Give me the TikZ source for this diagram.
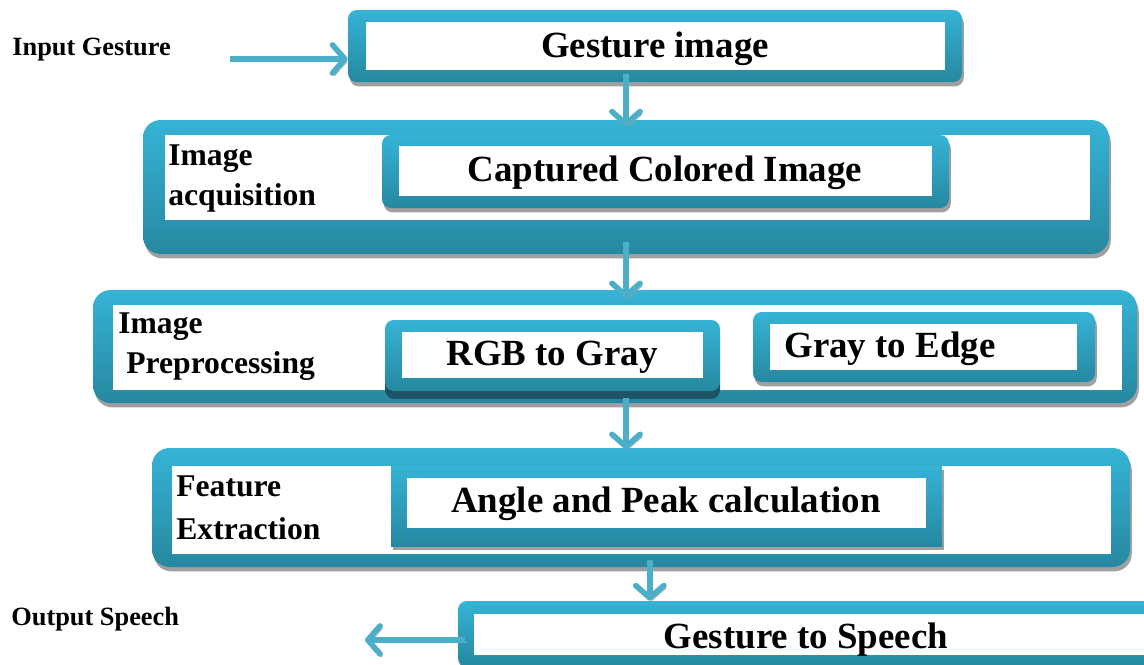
\documentclass[tikz,border=0pt]{standalone}
\usepackage{fontspec}
\setmainfont{Liberation Serif}
\usetikzlibrary{arrows.meta,fit,shadows}

\definecolor{frameTop}{RGB}{54,179,214}
\definecolor{frameBot}{RGB}{38,136,160}
\definecolor{arrowC}{RGB}{75,175,200}
\definecolor{shadowC}{RGB}{160,160,160}
\definecolor{deepC}{RGB}{30,85,102}

\tikzset{
  skin/.style={inner sep=0pt, rounded corners=5pt, top color=frameTop, bottom color=frameBot},
  frame/.style={skin, drop shadow={shadow xshift=1pt, shadow yshift=-2.5pt, opacity=1, fill=shadowC}},
  bigframe/.style={frame, rounded corners=10pt},
  darkframe/.style={skin, drop shadow={shadow xshift=0pt, shadow yshift=-4.5pt, opacity=1, fill=deepC}},
  hole/.style={inner sep=0pt, fill=white},
  title/.style={font=\fontsize{21}{25}\selectfont\bfseries, anchor=base, inner sep=0pt},
  side/.style={font=\fontsize{18}{22}\selectfont\bfseries, anchor=base west, inner sep=0pt},
  io/.style={font=\fontsize{15}{18}\selectfont\bfseries, anchor=base west, inner sep=0pt},
  flow/.style={draw=arrowC, line width=3.2pt, -{Straight Barb[round, length=7pt, width=16pt]},
    drop shadow={shadow xshift=1.2pt, shadow yshift=-1.5pt, opacity=1, fill=none, draw=shadowC}}
}

\begin{document}
\begin{tikzpicture}[x=0.02cm, y=-0.02cm]
  \useasboundingbox (0,0) rectangle (1144,664);
  \clip (0,0) rectangle (1144,664);

  % input
  \node[io] (inTxt) at (12,55) {Input Gesture};
  \coordinate (inA) at (230,59);
  \node[frame, fit={(348,10) (962,82)}] (gi) {};
  \node[hole, fit={(366,22) (945,70)}] (giIn) {};
  \node[title] (giTxt) at (655,57) {Gesture image};

  % image acquisition
  \node[bigframe, fit={(143,120) (1109,254)}] (acq) {};
  \node[hole, fit={(165,135) (1090,220)}] (acqIn) {};
  \node[side] (acqA) at (168,165) {Image};
  \node[side] (acqB) at (168,205) {acquisition};
  \node[frame, fit={(382,135) (949,208)}] (cap) {};
  \node[hole, fit={(399,146) (932,196)}] (capIn) {};
  \node[title] (capTxt) at (665,181) {Captured Colored Image};

  % image preprocessing
  \node[bigframe, fit={(93,290) (1137,403)}] (pre) {};
  \node[hole, fit={(113,305) (1122,390)}] (preIn) {};
  \node[side] (preA) at (118,333) {Image};
  \node[side] (preB) at (126,373) {Preprocessing};
  \node[darkframe, fit={(385,320) (720,391)}] (rgb) {};
  \node[hole, fit={(402,332) (703,378)}] (rgbIn) {};
  \node[title] (rgbTxt) at (552,365) {RGB to Gray};
  \node[frame, fit={(753,312) (1095,382)}] (gte) {};
  \node[hole, fit={(770,324) (1077,370)}] (gteIn) {};
  \node[title, anchor=base west] (gteTxt) at (784,357) {Gray to Edge};

  % feature extraction
  \node[bigframe, fit={(152,448) (1130,567)}] (feat) {};
  \node[hole, fit={(172,466) (1111,554)}] (featIn) {};
  \node[side] (featA) at (176,496) {Feature};
  \node[side] (featB) at (176,539) {Extraction};
  \node[frame, sharp corners, fit={(391,466) (942,546)}] (ang) {};
  \node[hole, fit={(407,478) (926,528)}] (angIn) {};
  \node[title] (angTxt) at (666,512) {Angle and Peak calculation};

  % output
  \node[frame, fit={(458,601) (1170,667)}] (gts) {};
  \node[hole, fit={(474,614) (1160,655)}] (gtsIn) {};
  \node[title] (gtsTxt) at (806,648) {Gesture to Speech};
  \node[io] (outTxt) at (11,625) {Output Speech};
  \coordinate (outA) at (365,640);

  % arrows
  \draw[flow] (inA) -- (inA -| gi.west);
  \draw[flow] ([yshift=5pt]acq.north |- gi.south) -- ([yshift=-4pt]acq.north);
  \draw[flow] ([yshift=7pt]acq.south) -- ([yshift=-5pt]acq.south |- pre.north);
  \draw[flow] ([yshift=3pt]acq.south |- pre.south) -- ([yshift=-1pt]acq.south |- feat.north);
  \draw[flow] ([xshift=5pt, yshift=4pt]feat.south) -- ([xshift=5pt]feat.south |- gts.north);
  \draw[flow] ([xshift=4pt]gts.west |- outA) -- (outA);
\end{tikzpicture}
\end{document}
